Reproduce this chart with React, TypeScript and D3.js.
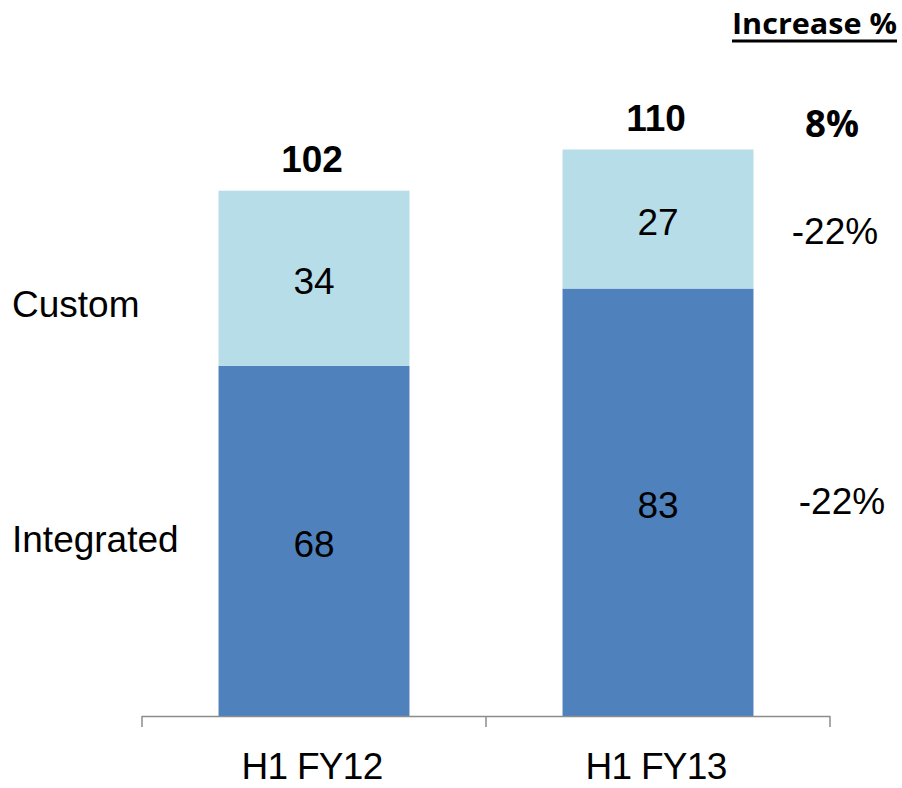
import React from "react";
import * as d3 from "d3";

const categories = ["H1 FY12", "H1 FY13"];
const integrated = [68, 83];
const custom = [34, 27];
const totals = [102, 110];
const seriesNames = ["Integrated", "Custom"];
const increaseTitle = "Increase %";
const totalIncrease = "8%";
const customIncrease = "-22%";
const integratedIncrease = "-22%";

const W = 902;
const H = 788;
const DARK = "#4F81BD";
const LIGHT = "#B7DDE8";
const ARIAL = "'Liberation Sans', Arial, sans-serif";
const CALIBRI = "'Open Sans', 'Noto Sans', sans-serif";
const FS = 37;

export default function App() {
  const x = d3.scaleBand<string>().domain(categories).range([142, 830]).padding(0);
  const y = d3.scaleLinear().domain([0, 120]).range([716, 716 - 120 * 5.15]);
  const bw = x.bandwidth() * 0.555;
  const cx = (c: string) => (x(c) as number) + x.bandwidth() / 2;

  const stack = d3.stack<any>().keys(["integrated", "custom"])(
    categories.map((c, i) => ({ cat: c, integrated: integrated[i], custom: custom[i] }))
  );
  const colors = [DARK, LIGHT];
  const ticks = [...categories.map((c) => x(c) as number), 830];

  return (
    <svg width={W} height={H} style={{ position: "absolute", left: 0, top: 0, background: "#fff" }}>
      <rect width={W} height={H} fill="#fff" />
      {stack.map((layer, li) => (
        <g key={li}>
          {layer.map((d, i) => {
            const c = categories[i];
            const top = y(d[1]);
            const bot = y(d[0]);
            return (
              <g key={c}>
                <rect x={cx(c) - bw / 2} y={top} width={bw} height={bot - top} fill={colors[li]} />
                <text
                  x={cx(c)}
                  y={(top + bot) / 2 + 16}
                  textAnchor="middle"
                  fontFamily={ARIAL}
                  fontSize={FS}
                  fill="#000"
                >
                  {d[1] - d[0]}
                </text>
              </g>
            );
          })}
        </g>
      ))}
      {categories.map((c, i) => (
        <text
          key={c}
          x={cx(c) - 2}
          y={y(totals[i]) - 19}
          textAnchor="middle"
          fontFamily={ARIAL}
          fontWeight="bold"
          fontSize={FS}
          fill="#000"
        >
          {totals[i]}
        </text>
      ))}
      {/* axis */}
      <line x1={142} x2={830} y1={716.5} y2={716.5} stroke="#8C8C8C" strokeWidth={1.5} />
      {ticks.map((t, i) => (
        <line key={i} x1={t} x2={t} y1={716} y2={727} stroke="#8C8C8C" strokeWidth={1.5} />
      ))}
      {categories.map((c) => (
        <text
          key={c}
          x={cx(c) - 2}
          y={779}
          textAnchor="middle"
          fontFamily={ARIAL}
          fontSize={FS}
          letterSpacing={-0.7}
          fill="#000"
        >
          {c}
        </text>
      ))}
      {/* series labels */}
      <text x={12} y={317} fontFamily={ARIAL} fontSize={FS} fill="#000">
        {seriesNames[1]}
      </text>
      <text x={12} y={552} fontFamily={ARIAL} fontSize={FS} fill="#000">
        {seriesNames[0]}
      </text>
      {/* increase column */}
      <text
        x={732}
        y={34}
        fontFamily={CALIBRI}
        fontWeight="bold"
        fontSize={28}
        textLength={165}
        lengthAdjust="spacingAndGlyphs"
        fill="#000"
      >
        {increaseTitle}
      </text>
      <rect x={732} y={39.5} width={165} height={3} fill="#000" />
      <text
        x={805}
        y={137}
        fontFamily={CALIBRI}
        fontWeight="bold"
        fontSize={37}
        textLength={54}
        lengthAdjust="spacingAndGlyphs"
        fill="#000"
      >
        {totalIncrease}
      </text>
      <text x={835} y={244} textAnchor="middle" fontFamily={ARIAL} fontSize={FS} fill="#000">
        {customIncrease}
      </text>
      <text x={842} y={514} textAnchor="middle" fontFamily={ARIAL} fontSize={FS} fill="#000">
        {integratedIncrease}
      </text>
    </svg>
  );
}
